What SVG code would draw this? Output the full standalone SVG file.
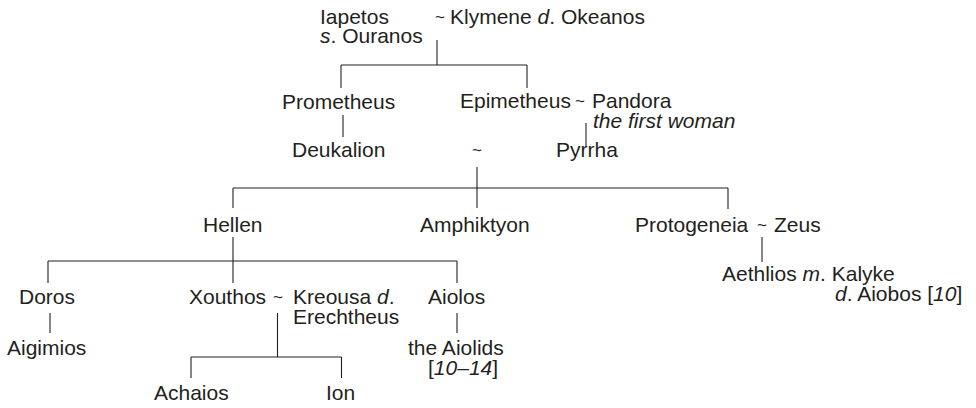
<svg xmlns="http://www.w3.org/2000/svg" width="976" height="408" viewBox="0 0 976 408">
  <style>
    text { font-family: "Liberation Sans", Arial, Helvetica, sans-serif; font-size: 21px; fill: #231f20; }
    .it { font-style: italic; }
    .tilde { text-anchor: middle; font-size: 17px; }
    #connectors path { fill: none; stroke: #231f20; stroke-width: 1.1; }
  </style>
  <rect width="976" height="408" fill="#ffffff"/>

  <!-- lines of descent -->
  <g id="connectors">
    <path d="M437,40 V65 M341,65 H527 M341,65 V88 M527,65 V88"/>
    <path d="M343,115 V137"/>
    <path d="M586,123 V147"/>
    <path d="M477,167 V208 M233,188 H728 M233,188 V208 M728,188 V209"/>
    <path d="M233,237 V283 M48,261 H457 M48,261 V283 M457,261 V283"/>
    <path d="M762,237 V262"/>
    <path d="M50,313 V333"/>
    <path d="M277.5,313 V357 M191,357 H341.5 M191,357 V378 M341.5,357 V378"/>
    <path d="M457,313 V333"/>
  </g>

  <g id="n-iapetos">
    <text x="320" y="23.5">Iapetos</text>
    <text x="320" y="43"><tspan class="it">s</tspan>. Ouranos</text>
  </g>
  <g id="n-klymene">
    <text class="tilde" x="440" y="22.5">~</text>
    <text x="450" y="23.5">Klymene <tspan class="it">d</tspan>. Okeanos</text>
  </g>
  <g id="n-prometheus">
    <text x="282" y="109">Prometheus</text>
  </g>
  <g id="n-epimetheus">
    <text x="460" y="108">Epimetheus</text>
  </g>
  <g id="n-pandora">
    <text class="tilde" x="580" y="107">~</text>
    <text x="592" y="108">Pandora</text>
    <text class="it" x="593" y="128">the first woman</text>
  </g>
  <g id="n-deukalion">
    <text x="292" y="157">Deukalion</text>
  </g>
  <g id="n-pyrrha">
    <text class="tilde" x="477" y="156">~</text>
    <text x="556" y="157">Pyrrha</text>
  </g>
  <g id="n-hellen">
    <text x="203" y="232">Hellen</text>
  </g>
  <g id="n-amphiktyon">
    <text x="420" y="232">Amphiktyon</text>
  </g>
  <g id="n-protogeneia">
    <text x="635" y="232">Protogeneia</text>
  </g>
  <g id="n-zeus">
    <text class="tilde" x="762" y="231">~</text>
    <text x="774" y="232">Zeus</text>
  </g>
  <g id="n-aethlios">
    <text x="722" y="281">Aethlios <tspan class="it">m</tspan>. Kalyke</text>
    <text x="835" y="301"><tspan class="it">d</tspan>. Aiobos [<tspan class="it">10</tspan>]</text>
  </g>
  <g id="n-doros">
    <text x="19" y="304">Doros</text>
  </g>
  <g id="n-aigimios">
    <text x="7" y="355">Aigimios</text>
  </g>
  <g id="n-xouthos">
    <text x="189" y="304">Xouthos</text>
  </g>
  <g id="n-kreousa">
    <text class="tilde" x="278" y="303">~</text>
    <text x="293" y="304">Kreousa <tspan class="it">d</tspan>.</text>
    <text x="293" y="324">Erechtheus</text>
  </g>
  <g id="n-aiolos">
    <text x="428" y="304">Aiolos</text>
  </g>
  <g id="n-aiolids">
    <text x="408" y="355">the Aiolids</text>
    <text x="428" y="375">[<tspan class="it">10–14</tspan>]</text>
  </g>
  <g id="n-achaios">
    <text x="154" y="400">Achaios</text>
  </g>
  <g id="n-ion">
    <text x="326" y="400">Ion</text>
  </g>
</svg>
